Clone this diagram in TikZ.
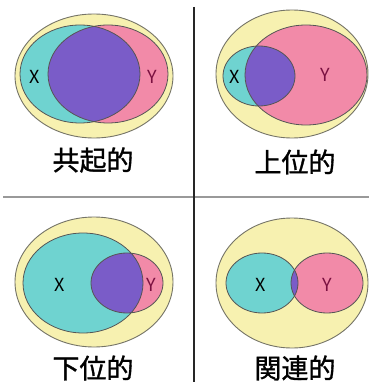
\documentclass[tikz,border=0pt]{standalone}
\usepackage{fontspec}
\newfontfamily\cjk{Noto Sans CJK JP}
\newfontfamily\cjkcap[FakeBold=1.2]{Noto Sans CJK JP}
\definecolor{outerY}{HTML}{F7F1B0}
\definecolor{setX}{HTML}{6FD3D0}
\definecolor{setY}{HTML}{F28AA8}
\definecolor{both}{HTML}{7A5CC8}
\definecolor{rim}{HTML}{555555}
\definecolor{ylab}{HTML}{7A1040}
\tikzset{
  outer/.style={fill=outerY, draw=rim!80!outerY, line width=0.9pt},
  xset/.style={fill=setX},
  yset/.style={fill=setY},
  rimline/.style={draw=rim, line width=0.8pt},
  captxt/.style={font=\cjkcap\fontsize{27}{27}\selectfont, text=black, inner sep=0pt},
  lbl/.style={font=\cjk\fontsize{18}{18}\selectfont, text=black},
  ylbl/.style={font=\cjk\fontsize{18}{18}\selectfont, text=ylab}
}
\begin{document}
\begin{tikzpicture}[x=1pt,y=-1pt]
\useasboundingbox (0,0) rectangle (369,382);
\fill[white] (0,0) rectangle (369,382);

% Panel 1: co-occurrence
\path[outer] (94,76) ellipse [x radius=79, y radius=62];
\path[xset] (80,74) ellipse [x radius=60, y radius=49];
\path[yset] (108,74) ellipse [x radius=60, y radius=49];
\begin{scope}
  \clip (80,74) ellipse [x radius=60, y radius=49];
  \fill[both] (108,74) ellipse [x radius=60, y radius=49];
\end{scope}
\path[rimline] (80,74) ellipse [x radius=60, y radius=49];
\path[rimline] (108,74) ellipse [x radius=60, y radius=49];
\node[lbl] (x1) at (35,77) {X};
\node[ylbl] (y1) at (152,77) {Y};
\node[captxt] (c1) at (93,160) {共起的};

% Panel 2: superordinate
\path[outer] (292,74) ellipse [x radius=76, y radius=64];
\path[xset] (259,76) ellipse [x radius=36, y radius=30];
\path[yset] (306,75) ellipse [x radius=61, y radius=50];
\begin{scope}
  \clip (259,76) ellipse [x radius=36, y radius=30];
  \fill[both] (306,75) ellipse [x radius=61, y radius=50];
\end{scope}
\path[rimline] (259,76) ellipse [x radius=36, y radius=30];
\path[rimline] (306,75) ellipse [x radius=61, y radius=50];
\node[lbl] (x2) at (235,77) {X};
\node[ylbl] (y2) at (325,75) {Y};
\node[captxt] (c2) at (295,162) {上位的};

% Panel 3: subordinate
\path[outer] (94,282) ellipse [x radius=79, y radius=65];
\path[xset] (83,283) ellipse [x radius=60, y radius=50];
\path[yset] (127,283) ellipse [x radius=36, y radius=30];
\begin{scope}
  \clip (83,283) ellipse [x radius=60, y radius=50];
  \fill[both] (127,283) ellipse [x radius=36, y radius=30];
\end{scope}
\path[rimline] (83,283) ellipse [x radius=60, y radius=50];
\path[rimline] (127,283) ellipse [x radius=36, y radius=30];
\node[lbl] (x3) at (60,285) {X};
\node[ylbl] (y3) at (151,285) {Y};
\node[captxt] (c3) at (93,368) {下位的};

% Panel 4: related
\path[outer] (292,283) ellipse [x radius=76, y radius=65];
\path[xset] (262,283) ellipse [x radius=36, y radius=30];
\path[yset] (327,283) ellipse [x radius=36, y radius=30];
\begin{scope}
  \clip (262,283) ellipse [x radius=36, y radius=30];
  \fill[both] (327,283) ellipse [x radius=36, y radius=30];
\end{scope}
\path[rimline] (262,283) ellipse [x radius=36, y radius=30];
\path[rimline] (327,283) ellipse [x radius=36, y radius=30];
\node[lbl] (x4) at (261,285) {X};
\node[ylbl] (y4) at (327,285) {Y};
\node[captxt] (c4) at (295,368) {関連的};

% dividers
\coordinate (hl) at (3,197);
\coordinate (hr) at (369,197);
\coordinate (vt) at (194,7);
\coordinate (vb) at (194,382);
\draw[draw=black!40, line width=2pt] (hl) -- (hr);
\draw[draw=black!85, line width=1.5pt] (vt) -- (vb);
\end{tikzpicture}
\end{document}
